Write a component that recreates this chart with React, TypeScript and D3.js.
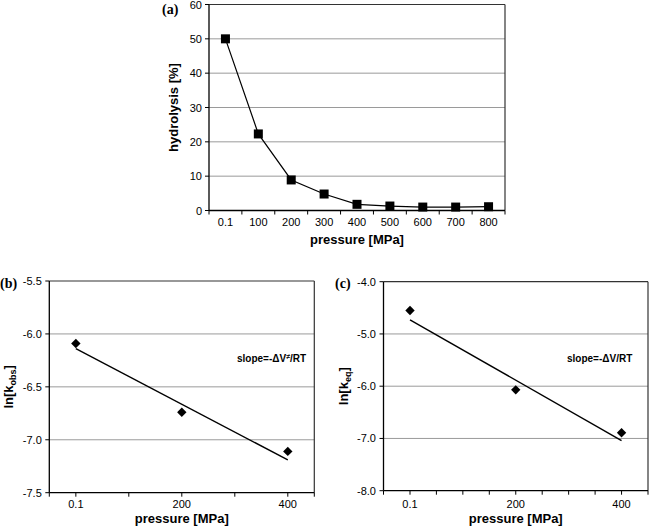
import React from "react";
import * as d3 from "d3";

const pressuresA = ["0.1", "100", "200", "300", "400", "500", "600", "700", "800"];
const hydrolysis = [50, 22.3, 8.9, 4.8, 1.8, 1.3, 1.0, 1.0, 1.1];
const yTicksA = [0, 10, 20, 30, 40, 50, 60];

const pressuresBC = [0.1, 200, 400];
const lnKobs = [-6.09, -6.74, -7.11];
const fitB = [-6.14, -7.19];
const yTicksB = [-7.5, -7.0, -6.5, -6.0, -5.5];
const xTicksB = [0.1, 100, 200, 300, 400];

const lnKeq = [-4.55, -6.07, -6.89];
const fitC = [-4.73, -7.04];
const yTicksC = [-8.0, -7.0, -6.0, -5.0, -4.0];
const xTicksC = [0.1, 50, 100, 150, 200, 250, 300, 350, 400];
const xLabelsBC = [0.1, 200, 400];

const SANS = "'Liberation Sans', Arial, sans-serif";
const SERIF = "'Liberation Serif', 'Times New Roman', serif";
const GRID = "#9a9a9a";
const FRAME = "#333";

function PanelA() {
  const L = 209, R = 505, T = 4.5, B = 210.5;
  const x = d3.scalePoint<string>().domain(pressuresA).range([L, R]).padding(0.5);
  const y = d3.scaleLinear().domain([0, 60]).range([B, T]);
  const step = x.step();
  const line = d3.line<number>().x((_, i) => x(pressuresA[i])!).y((d) => y(d));
  const bounds = d3.range(pressuresA.length + 1).map((i) => L + i * step);
  return (
    <g>
      {yTicksA.slice(1, -1).map((t) => (
        <line key={t} x1={L} x2={R} y1={y(t)} y2={y(t)} stroke={GRID} strokeWidth={1} />
      ))}
      <line x1={L} x2={R} y1={T} y2={T} stroke={FRAME} strokeWidth={1.2} />
      <line x1={R} x2={R} y1={T} y2={B} stroke={FRAME} strokeWidth={1.2} />
      <line x1={L} x2={L} y1={T} y2={B} stroke="#000" strokeWidth={1.3} />
      <line x1={L} x2={R} y1={B} y2={B} stroke="#000" strokeWidth={1.3} />
      {yTicksA.map((t) => (
        <g key={t}>
          <line x1={L - 4} x2={L} y1={y(t)} y2={y(t)} stroke="#000" />
          <text x={L - 7} y={y(t) + 4} textAnchor="end" fontSize={11} fontFamily={SANS}>{t}</text>
        </g>
      ))}
      {bounds.map((b, i) => (
        <line key={i} x1={b} x2={b} y1={B} y2={B + 4} stroke="#000" />
      ))}
      {pressuresA.map((p) => (
        <text key={p} x={x(p)} y={225.5} textAnchor="middle" fontSize={11} fontFamily={SANS}>{p}</text>
      ))}
      <path d={line(hydrolysis)!} fill="none" stroke="#000" strokeWidth={1.2} />
      {hydrolysis.map((v, i) => (
        <rect key={i} x={x(pressuresA[i])! - 4.5} y={y(v) - 4.5} width={9} height={9} fill="#000" />
      ))}
      <text x={(L + R) / 2} y={243.5} textAnchor="middle" fontSize={13} fontWeight="bold" fontFamily={SANS}>pressure [MPa]</text>
      <text transform={`translate(177.5,${(T + B) / 2}) rotate(-90)`} textAnchor="middle" fontSize={13} fontWeight="bold" fontFamily={SANS}>hydrolysis [%]</text>
      <text x={162} y={14} fontSize={14} fontWeight="bold" fontFamily={SERIF}>(a)</text>
    </g>
  );
}

type PanelProps = {
  L: number; R: number; T: number; B: number;
  yDomain: [number, number];
  yTicks: number[];
  xTicks: number[];
  values: number[];
  fit: number[];
  label: string;
  labelX: number;
  ySub: string;
  yLabelX: number;
  slopeX: number;
  sup: string;
};

function Panel(p: PanelProps) {
  const { L, R, T, B } = p;
  const x = d3.scaleLinear().domain([-50, 450]).range([L, R]);
  const y = d3.scaleLinear().domain(p.yDomain).range([B, T]);
  const sym = d3.symbol().type(d3.symbolSquare).size(44);
  const fitLine = d3.line<number>().x((_, i) => x(pressuresBC[i === 0 ? 0 : 2])).y((d) => y(d));
  return (
    <g>
      {p.yTicks.slice(1, -1).map((t) => (
        <line key={t} x1={L} x2={R} y1={y(t)} y2={y(t)} stroke={GRID} strokeWidth={1} />
      ))}
      <line x1={L} x2={R} y1={T} y2={T} stroke={FRAME} strokeWidth={1.2} />
      <line x1={R} x2={R} y1={T} y2={B} stroke={FRAME} strokeWidth={1.2} />
      <line x1={L} x2={L} y1={T} y2={B} stroke="#000" strokeWidth={1.3} />
      <line x1={L} x2={R} y1={B} y2={B} stroke="#000" strokeWidth={1.3} />
      {p.yTicks.map((t) => (
        <g key={t}>
          <line x1={L - 4} x2={L} y1={y(t)} y2={y(t)} stroke="#000" />
          <text x={L - 7.5} y={y(t) + 4} textAnchor="end" fontSize={11} fontFamily={SANS}>{t.toFixed(1)}</text>
        </g>
      ))}
      {[-50, ...p.xTicks, 450].map((t, i) => (
        <line key={i} x1={x(t)} x2={x(t)} y1={B} y2={B + 4} stroke="#000" />
      ))}
      {xLabelsBC.map((t) => (
        <text key={t} x={x(t)} y={507.5} textAnchor="middle" fontSize={11} fontFamily={SANS}>{t}</text>
      ))}
      <path d={fitLine(p.fit)!} fill="none" stroke="#000" strokeWidth={1.4} />
      {p.values.map((v, i) => (
        <path key={i} d={sym()!} transform={`translate(${x(pressuresBC[i])},${y(v)}) rotate(45)`} fill="#000" />
      ))}
      <text x={p.slopeX} y={362} fontSize={10} fontWeight="bold" fontFamily={SANS}>
        slope=-ΔV
        {p.sup ? <tspan fontSize={7} dy={-3}>{p.sup}</tspan> : null}
        {p.sup ? <tspan dy={3}>/RT</tspan> : <tspan>/RT</tspan>}
      </text>
      <text x={(L + R) / 2} y={522.5} textAnchor="middle" fontSize={13} fontWeight="bold" fontFamily={SANS}>pressure [MPa]</text>
      <text transform={`translate(${p.yLabelX},${(T + B) / 2}) rotate(-90)`} textAnchor="middle" fontSize={13} fontWeight="bold" fontFamily={SANS}>
        ln[k<tspan fontSize={9} dy={3}>{p.ySub}</tspan><tspan dy={-3}>]</tspan>
      </text>
      <text x={p.labelX} y={288} fontSize={14} fontWeight="bold" fontFamily={SERIF}>{p.label}</text>
    </g>
  );
}

export default function App() {
  return (
    <svg width={650} height={531} style={{ position: "absolute", left: 0, top: 0, background: "#fff" }}>
      <rect width={650} height={531} fill="#fff" />
      <PanelA />
      <Panel L={49.3} R={314.3} T={281} B={492.7} yDomain={[-7.5, -5.5]} yTicks={yTicksB} xTicks={xTicksB}
        values={lnKobs} fit={fitB} label="(b)" labelX={0} ySub="obs" yLabelX={12.5} slopeX={237} sup="≠" />
      <Panel L={383.5} R={648} T={281.7} B={490.7} yDomain={[-8, -4]} yTicks={yTicksC} xTicks={xTicksC}
        values={lnKeq} fit={fitC} label="(c)" labelX={335} ySub="eq" yLabelX={347.5} slopeX={567} sup="" />
    </svg>
  );
}
